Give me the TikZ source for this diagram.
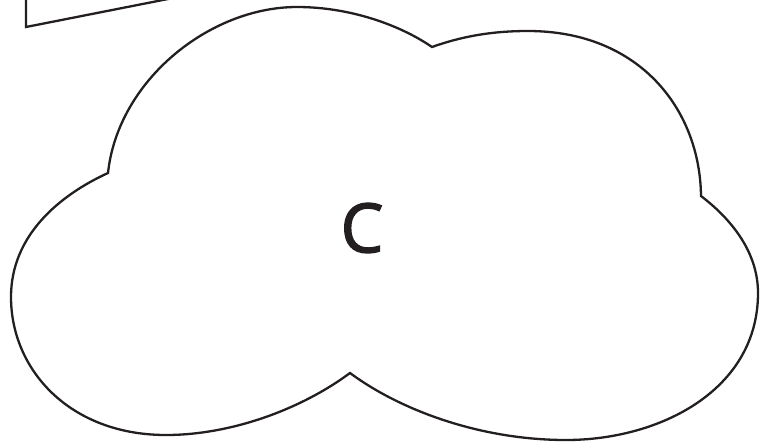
\documentclass[tikz,border=0pt]{standalone}
\usepackage{fontspec}
\setmainfont{Open Sans}
\newfontfamily\lblfont{Open Sans}[FakeBold=2]
\usepackage{xcolor}
\usepackage{tikz}
\definecolor{ink}{HTML}{231F20}

\begin{document}
\begin{tikzpicture}[x=1pt,y=-1pt,line width=2.3pt,line join=miter]
\tikzstyle{outline}=[draw=ink]
\useasboundingbox (0,0) rectangle (768,442);
% corner of the box cut by the top edge
\draw[outline] (26,-2) -- (26,27) -- (173,-2);
% cloud
\draw[outline] (108,173)
  .. controls (118,80) and (210,7) .. (297,7)
  .. controls (350,7) and (400,25) .. (432,47)
  .. controls (460,37) and (490,31) .. (528,31)
  .. controls (640,31) and (700,110) .. (701,196)
  .. controls (735,222) and (758,255) .. (758,293)
  .. controls (758,390) and (660,440) .. (566,440)
  .. controls (480,440) and (400,410) .. (350,373)
  .. controls (300,410) and (230,435) .. (166,435)
  .. controls (70,435) and (11,370) .. (11,297)
  .. controls (11,235) and (60,195) .. cycle;
\node[text=ink,font=\fontsize{68}{68}\lblfont] (lbl) at (362,228) {C};
\end{tikzpicture}
\end{document}
